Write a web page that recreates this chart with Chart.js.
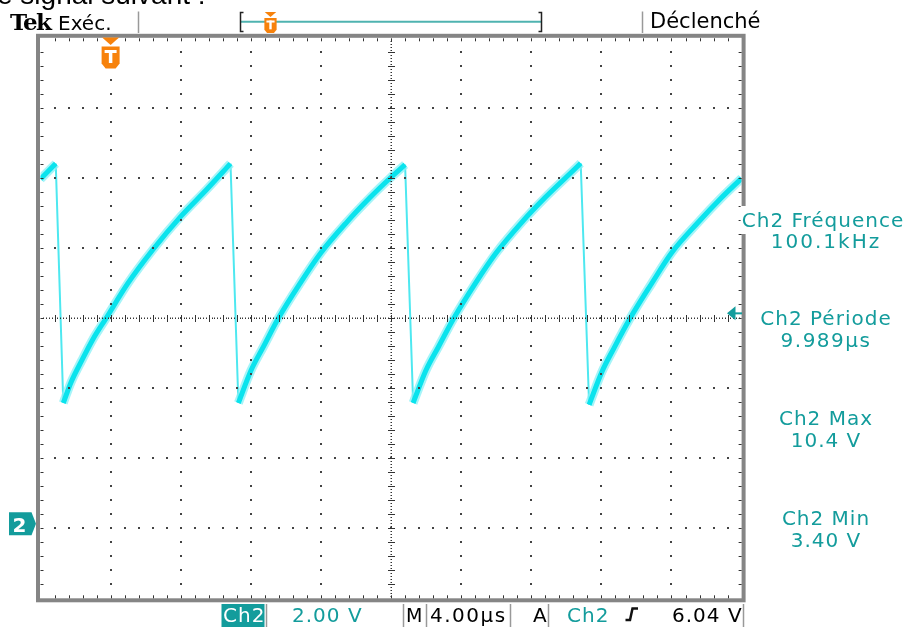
<!DOCTYPE html>
<html>
<head>
<meta charset="utf-8">
<script src="https://cdn.jsdelivr.net/npm/chart.js@4.4.1/dist/chart.umd.min.js"></script>
<style>
body { margin: 0; background: #fff; }
#wrap { position: relative; width: 910px; height: 627px; overflow: hidden; }
#scope { position: absolute; left: 0; top: 0; }
.t { position: absolute; line-height: 0; white-space: nowrap; font-family: "DejaVu Sans"; font-size: 20px; }
.c { width: 300px; text-align: center; letter-spacing: 1px; color: #139c9c; }
.teal { color: #139c9c; }
</style>
</head>
<body>
<div id="wrap">
<canvas id="scope" width="910" height="627"></canvas>

<div class="t" style="left:-3px;top:-4.7px;font-family:'Liberation Sans';font-size:28px;">e signal suivant :</div>
<div class="t" style="left:10px;top:22px;font-family:'DejaVu Serif';font-weight:bold;font-size:23px;letter-spacing:-1.5px;">Tek</div>
<div class="t" style="left:58px;top:23.1px;">Exéc.</div>
<div class="t" style="left:650px;top:21.2px;font-size:21px;">Déclenché</div>

<div class="t c" style="left:673px;top:219.8px;">Ch2 Fréquence</div>
<div class="t c" style="left:676px;top:241.4px;letter-spacing:2px;">100.1kHz</div>
<div class="t c" style="left:676px;top:318.1px;">Ch2 Période</div>
<div class="t c" style="left:676px;top:339.8px;letter-spacing:1.5px;">9.989µs</div>
<div class="t c" style="left:676px;top:418.1px;">Ch2 Max</div>
<div class="t c" style="left:676px;top:439.8px;">10.4 V</div>
<div class="t c" style="left:676px;top:518.1px;">Ch2 Min</div>
<div class="t c" style="left:676px;top:539.8px;">3.40 V</div>

<div class="t" style="left:12.5px;top:525px;color:#fff;font-weight:bold;">2</div>

<div class="t" style="left:223px;top:615.4px;color:#fff;letter-spacing:1px;">Ch2</div>
<div class="t teal" style="left:292px;top:615.4px;letter-spacing:1px;">2.00 V</div>
<div class="t" style="left:406px;top:615.4px;font-size:19px;">M</div>
<div class="t" style="left:430px;top:615.4px;letter-spacing:1.5px;">4.00µs</div>
<div class="t" style="left:533px;top:615.4px;">A</div>
<div class="t teal" style="left:567px;top:615.4px;letter-spacing:1px;">Ch2</div>
<div class="t" style="left:672px;top:615.4px;letter-spacing:1px;">6.04 V</div>
</div>

<script>
// Ch2 trace: time in µs, level in V
const seg0T = [0, 0.87]
const seg0V = [9.85, 10.29]
const seg1T = [1.30, 1.75, 2.35, 3.00, 3.74, 5.00, 6.44, 8.02, 9.48, 10.84]
const seg1V = [3.45, 4.05, 4.66, 5.28, 5.87, 6.88, 7.85, 8.79, 9.55, 10.29]
const seg2T = [11.29, 12.01, 12.72, 13.57, 14.81, 16.01, 17.48, 18.80, 20.00, 20.80]
const seg2V = [3.45, 4.38, 5.06, 5.87, 6.87, 7.75, 8.62, 9.32, 9.90, 10.26]
const seg3T = [21.26, 21.98, 22.70, 23.58, 24.80, 26.00, 27.47, 28.79, 29.99, 30.82]
const seg3V = [3.45, 4.37, 5.05, 5.87, 6.86, 7.74, 8.62, 9.32, 9.90, 10.30]
const seg4T = [31.30, 32.02, 32.72, 33.64, 34.85, 36.02, 37.50, 38.82, 40.0]
const seg4V = [3.40, 4.33, 5.02, 5.87, 6.85, 7.75, 8.60, 9.30, 9.87]

// falling edges: peak -> trough
const fallTopT = [0.87, 10.84, 20.80, 30.82]
const fallTopV = [10.29, 10.29, 10.26, 10.30]
const fallLowT = [1.30, 11.29, 21.26, 31.30]
const fallLowV = [3.45, 3.45, 3.45, 3.40]

// screen: 4 µs/div x 10, 2 V/div x 8, ground marker slightly above a grid line
const timeMin = 0
const timeMax = 40
const voltMin = -2.13
const voltMax = 13.87
const trigTime = 4
const trigLevel = 6.04

const TEAL = '#139c9c'
const ORANGE = '#f7820c'

function segPoints(segs) {
    let pts = []
    segs.forEach((s, k) => {
        if (k > 0) pts.push({x: s[0][0] - 0.01, y: null})
        s[0].forEach((t, i) => pts.push({x: t, y: s[1][i]}))
    })
    return pts
}

const risePts = segPoints([[seg0T, seg0V], [seg1T, seg1V], [seg2T, seg2V], [seg3T, seg3V], [seg4T, seg4V]])
let fallPts = []
fallTopT.forEach((t, i) => {
    if (i > 0) fallPts.push({x: t - 0.01, y: null})
    fallPts.push({x: t, y: fallTopV[i]})
    fallPts.push({x: fallLowT[i], y: fallLowV[i]})
})

function tMarker(ctx, cx, top, s) {
    ctx.fillStyle = ORANGE
    ctx.beginPath()
    ctx.moveTo(cx - 8.5 * s, top)
    ctx.lineTo(cx + 8.5 * s, top)
    ctx.lineTo(cx, top + 7.5 * s)
    ctx.closePath()
    ctx.fill()
    const y0 = top + 9 * s
    ctx.beginPath()
    ctx.moveTo(cx - 9 * s, y0)
    ctx.lineTo(cx + 9 * s, y0)
    ctx.lineTo(cx + 9 * s, y0 + 17 * s)
    ctx.lineTo(cx + 5 * s, y0 + 22 * s)
    ctx.lineTo(cx - 5 * s, y0 + 22 * s)
    ctx.lineTo(cx - 9 * s, y0 + 17 * s)
    ctx.closePath()
    ctx.fill()
    ctx.fillStyle = '#fff'
    ctx.fillRect(cx - 6 * s, y0 + 3.5 * s, 12 * s, 3 * s)
    ctx.fillRect(cx - 1.75 * s, y0 + 3.5 * s, 3.5 * s, 13 * s)
}

function vline(ctx, x, y1, y2) {
    ctx.beginPath()
    ctx.moveTo(x, y1)
    ctx.lineTo(x, y2)
    ctx.stroke()
}

const scopeScreen = {
    id: 'scopeScreen',
    afterDatasetsDraw(chart) {
        const ctx = chart.ctx
        const a = chart.chartArea
        const dx = (a.right - a.left) / 10
        const dy = (a.bottom - a.top) / 8
        ctx.save()
        // graticule: a dot every fifth of a division
        ctx.fillStyle = '#444'
        for (let i = 1; i < 10; i++) {
            if (i === 5) continue
            const x = Math.round(a.left + i * dx)
            for (let j = 1; j < 40; j++) ctx.fillRect(x - 1, Math.round(a.top + j * dy / 5) - 1, 2, 2)
        }
        for (let j = 1; j < 8; j++) {
            if (j === 4) continue
            const y = Math.round(a.top + j * dy)
            for (let i = 1; i < 50; i++) ctx.fillRect(Math.round(a.left + i * dx / 5) - 1, y - 1, 2, 2)
        }
        // centre cross
        const x0 = Math.round(a.left + 5 * dx)
        const y0 = Math.round(a.top + 4 * dy)
        ctx.fillStyle = '#333'
        for (let j = 1; j < 200; j++) ctx.fillRect(x0 - 0.5, Math.round(a.top + j * dy / 25), 1.5, 1)
        for (let i = 1; i < 250; i++) ctx.fillRect(Math.round(a.left + i * dx / 25), y0 - 0.5, 1, 1.5)
        for (let j = 1; j < 40; j++) ctx.fillRect(x0 - 3, Math.round(a.top + j * dy / 5), 7, 1)
        for (let i = 1; i < 50; i++) ctx.fillRect(Math.round(a.left + i * dx / 5), y0 - 3, 1, 7)
        // frame
        ctx.strokeStyle = '#858585'
        ctx.lineWidth = 4
        ctx.strokeRect(a.left - 2.5, a.top - 2.5, a.right - a.left + 4.5, a.bottom - a.top + 4.5)
        ctx.fillStyle = '#333'
        for (let i = 1; i < 50; i++) {
            const x = Math.round(a.left + i * dx / 5)
            ctx.fillRect(x, a.top, 1, 3)
            ctx.fillRect(x, a.bottom - 3, 1, 3)
        }
        for (let j = 1; j < 40; j++) {
            const y = Math.round(a.top + j * dy / 5)
            ctx.fillRect(a.left, y, 3, 1)
            ctx.fillRect(a.right - 3, y, 3, 1)
        }
        // gap in the frame behind the readout
        ctx.fillStyle = '#fff'
        ctx.fillRect(a.right - 1, 206, 6, 28)
        ctx.restore()
    },
    afterDraw(chart) {
        const ctx = chart.ctx
        const xs = chart.scales.x
        const ys = chart.scales.y
        ctx.save()
        // trigger position in the record
        tMarker(ctx, xs.getPixelForValue(trigTime), 37.5, 1)
        // record bar at the top
        ctx.strokeStyle = '#999'
        ctx.lineWidth = 1.5
        vline(ctx, 138.5, 11.5, 33)
        vline(ctx, 642.5, 11.5, 33)
        ctx.strokeStyle = '#4fb3b0'
        ctx.lineWidth = 2
        ctx.beginPath()
        ctx.moveTo(241, 21.7)
        ctx.lineTo(541, 21.7)
        ctx.stroke()
        ctx.strokeStyle = '#222'
        ctx.lineWidth = 1.5
        ctx.beginPath()
        ctx.moveTo(243.5, 12.5); ctx.lineTo(240.5, 12.5); ctx.lineTo(240.5, 31.5); ctx.lineTo(243.5, 31.5)
        ctx.moveTo(538.5, 12.5); ctx.lineTo(541.5, 12.5); ctx.lineTo(541.5, 31.5); ctx.lineTo(538.5, 31.5)
        ctx.stroke()
        tMarker(ctx, 270.5, 12, 0.68)
        // ground marker of Ch2
        const yg = ys.getPixelForValue(0)
        ctx.fillStyle = TEAL
        ctx.beginPath()
        ctx.moveTo(9, yg - 11.5)
        ctx.lineTo(31.5, yg - 11.5)
        ctx.lineTo(36, yg)
        ctx.lineTo(31.5, yg + 11.5)
        ctx.lineTo(9, yg + 11.5)
        ctx.closePath()
        ctx.fill()
        // trigger level arrow
        const yt = ys.getPixelForValue(trigLevel) + 1
        ctx.beginPath()
        ctx.moveTo(727, yt)
        ctx.lineTo(735.5, yt - 7)
        ctx.lineTo(735.5, yt + 7)
        ctx.closePath()
        ctx.fill()
        ctx.fillRect(735, yt - 1, 7, 2)
        // status bar at the bottom
        ctx.fillRect(221.5, 604, 43, 23)
        ctx.strokeStyle = '#999'
        ctx.lineWidth = 1.5
        ;[266.5, 403.5, 426.5, 510.5, 548.5, 743.5].forEach(x => vline(ctx, x, 604, 627))
        // rising slope symbol
        ctx.strokeStyle = '#111'
        ctx.lineWidth = 2.5
        ctx.beginPath()
        ctx.moveTo(625.5, 620)
        ctx.lineTo(630, 620)
        ctx.lineTo(632.5, 608.5)
        ctx.lineTo(638, 608.5)
        ctx.stroke()
        ctx.restore()
    }
}

new Chart(document.getElementById('scope'), {
    type: 'line',
    data: {
        datasets: [{
            data: risePts,
            borderColor: '#0ae3ed',
            borderWidth: 5,
            cubicInterpolationMode: 'monotone',
            spanGaps: false,
            order: 0
        }, {
            data: risePts,
            borderColor: 'rgba(135, 240, 246, 0.75)',
            borderWidth: 9,
            cubicInterpolationMode: 'monotone',
            spanGaps: false,
            order: 1
        }, {
            data: fallPts,
            borderColor: '#4ee8f0',
            borderWidth: 2,
            tension: 0,
            spanGaps: false,
            order: 2
        }]
    },
    options: {
        responsive: false,
        animation: false,
        events: [],
        layout: {
            padding: {left: 40.5, top: 38.3, right: 168.4, bottom: 28.7}
        },
        elements: {
            point: {radius: 0}
        },
        plugins: {
            legend: {display: false},
            tooltip: {enabled: false}
        },
        scales: {
            x: {type: 'linear', min: timeMin, max: timeMax, display: false},
            y: {type: 'linear', min: voltMin, max: voltMax, display: false}
        }
    },
    plugins: [scopeScreen]
})
</script>
</body>
</html>
